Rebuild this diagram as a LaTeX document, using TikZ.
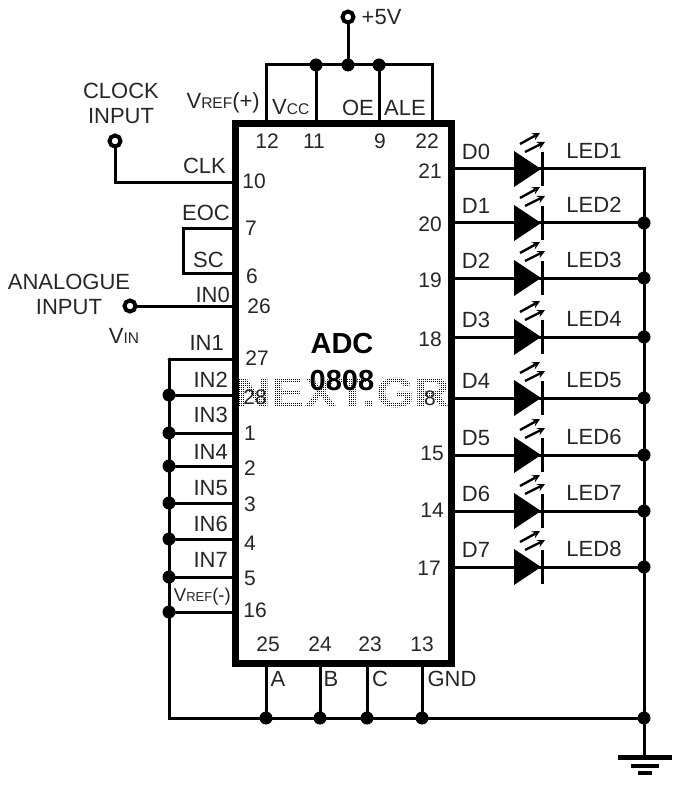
\documentclass[tikz,border=0pt]{standalone}
\usepackage{fontspec}
\setmainfont{Liberation Sans}
\usetikzlibrary{positioning, calc}
\newcommand{\smalltxt}[1]{{\fontsize{15.5}{15.5}\selectfont #1}}
\tikzset{
    wire/.style={line width=3pt, line cap=round, line join=miter},
    chipbox/.style={draw, line width=7pt, minimum width=216.5pt, minimum height=539pt, inner sep=0pt},
    dotjoin/.style={circle, fill=black, inner sep=0pt, minimum size=13pt},
    terminal/.style={circle, draw, fill=white, line width=4pt, inner sep=0pt, minimum size=11pt},
    lab/.style={inner sep=0pt, text=black!85, font=\fontsize{22}{22}\selectfont},
    pinnum/.style={inner sep=0pt, text=black!85, font=\fontsize{21}{21}\selectfont},
    ledtri/.style={fill=black},
    bar/.style={line width=3pt},
    ledray/.style={line width=2.4pt, -stealth}
}
\begin{document}
\begin{tikzpicture}[x=1pt, y=-1pt]
    \useasboundingbox (0, 0) rectangle (679, 786);
    % watermark
    \node[inner sep=0pt, text=black, xscale=1.18, font=\fontsize{42}{42}\selectfont\bfseries] (mark) at (343, 393) {NEXT.GR};
    \foreach \k in {0,...,105} {
        \draw[white, line width=0.8pt] (238+2*\k, 374) -- (238+2*\k, 412);
    }
    \foreach \k in {0,...,19} {
        \draw[white, line width=0.8pt] (238, 374+2*\k) -- (450, 374+2*\k);
    }
    % chip
    \node[chipbox] (adc) at (343.5, 393.5) {};
    \node[inner sep=0pt, font=\fontsize{29}{29}\selectfont\bfseries] (adcname) at (342, 344) {ADC};
    \node[inner sep=0pt, font=\fontsize{29}{29}\selectfont\bfseries] (adcnum) at (342, 381) {0808};
    % pin numbers
    \foreach \x/\y/\n in {267/141/12, 314/141/11, 380/141/9, 427/141/22,
                          254/181/10, 251/228/7, 252/276/6, 259/306/26, 257/358/27, 255/397/28,
                          250/433/1, 250/468/2, 250/504/3, 250/543/4, 250/578/5, 255/610/16,
                          430/171/21, 430/224/20, 430/280/19, 430/339/18, 430/398/8,
                          432/453/15, 432/510/14, 429/568/17,
                          268/644/25, 320/644/24, 370/644/23, 422/644/13} {
        \node[pinnum] (num\n) at (\x, \y) {\n};
    }
    % supply rail
    \coordinate (railL) at (266, 65);
    \coordinate (railR) at (432, 65);
    \node[dotjoin] (jvcc) at (316, 65) {};
    \node[dotjoin] (jsup) at (348, 65) {};
    \node[dotjoin] (joe) at (379, 65) {};
    \node[terminal] (sup) at (348, 17) {};
    \node[lab, right=6pt of sup] (suptxt) {+5V};
    \draw[wire] (266, 124) -- (railL) -- (railR) -- (432, 124);
    \draw[wire] (sup) -- (jsup);
    \draw[wire] (jvcc) -- (316, 124);
    \draw[wire] (joe) -- (379, 124);
    \node[lab, anchor=east] (vref) at (260, 103) {V\smalltxt{REF}(+)};
    \node[lab, anchor=west] (vcc) at (272, 107) {V\smalltxt{CC}};
    \node[lab] (oe) at (358, 108) {OE};
    \node[lab] (ale) at (405, 108) {ALE};
    % clock and analogue inputs
    \node[terminal] (clk) at (115, 141) {};
    \coordinate (pinclk) at (235, 183);
    \draw[wire] (clk) |- (pinclk);
    \node[lab, align=center] (clktxt) at (121, 103) {CLOCK\\[3pt]INPUT};
    \node[lab, anchor=east] (clklab) at (226, 166) {CLK};
    \coordinate (pineoc) at (235, 229);
    \coordinate (pinsc) at (235, 273);
    \draw[wire] (pineoc) -- (183, 229) -- (183, 273) -- (pinsc);
    \node[lab, anchor=east] (eoc) at (230, 213) {EOC};
    \node[lab, anchor=east] (sc) at (224, 260) {SC};
    \node[terminal] (ana) at (130, 306) {};
    \coordinate (pinin0) at (235, 306);
    \draw[wire] (ana) -- (pinin0);
    \node[lab, align=center] (anatxt) at (69, 294) {ANALOGUE\\[3pt]INPUT};
    \node[lab] (vin) at (124, 336) {V\smalltxt{IN}};
    \node[lab, anchor=east] (in0) at (230, 295) {IN0};
    % grounded inputs
    \coordinate (pinin1) at (235, 359);
    \coordinate (cornerin) at (169, 359);
    \node[lab, anchor=east] (in1) at (224, 343) {IN1};
    \draw[wire] (pinin1) -- (cornerin);
    \foreach \y/\n/\ly in {395/2/380, 433/3/415, 466/4/452, 503/5/488, 539/6/524, 577/7/560} {
        \node[dotjoin] (jin\n) at (169, \y) {};
        \draw[wire] (jin\n) -- (235, \y);
        \node[lab, anchor=east] (in\n) at (228, \ly) {IN\n};
    }
    \node[dotjoin] (jref) at (169, 612) {};
    \draw[wire] (jref) -- (235, 612);
    \node[lab, anchor=east, font=\fontsize{18.5}{18.5}\selectfont] (vrefm) at (231, 597) {V{\fontsize{13}{13}\selectfont REF}(-)};
    % bottom rail
    \node[dotjoin] (ja) at (266, 718) {};
    \node[dotjoin] (jb) at (320, 718) {};
    \node[dotjoin] (jc) at (367, 718) {};
    \node[dotjoin] (jg) at (422, 718) {};
    \node[dotjoin] (jend) at (644, 718) {};
    \coordinate (cornerbl) at (169, 718);
    \draw[wire] (cornerin) -- (cornerbl) -- (jend);
    \foreach \j/\t/\l/\lx in {ja/A/a/278, jb/B/b/331, jc/C/c/380, jg/GND/g/452} {
        \draw[wire] (\j) -- (\j |- adc.south);
        \node[lab] (sel\l) at (\lx, 679) {\t};
    }
    % leds
    \foreach \i/\y/\d in {1/169/0, 2/223/1, 3/278/2, 4/337/3, 5/398/4, 6/455/5, 7/511/6, 8/567/7} {
        \coordinate (drv\i) at (452, \y);
        \node[lab] (d\i) at (476, \y-17) {D\d};
        \node[lab] (led\i) at (594, \y-18) {LED\i};
        \fill[ledtri] (514, \y-18) -- (541, \y) -- (514, \y+18) -- cycle;
        \draw[bar] (542, \y-17) -- (542, \y+17);
        \draw[ledray] (520, \y-25) -- (540, \y-36);
        \draw[ledray] (525, \y-17) -- (545, \y-27);
    }
    \coordinate (railtop) at (644, 169);
    \draw[wire] (drv1) -- (railtop) -- (jend);
    \foreach \i/\y in {2/223, 3/278, 4/337, 5/398, 6/455, 7/511, 8/567} {
        \node[dotjoin] (jled\i) at (644, \y) {};
        \draw[wire] (drv\i) -- (jled\i);
    }
    % ground
    \coordinate (gnd1) at (644, 757);
    \draw[wire] (jend) -- (gnd1);
    \draw[line width=5pt] (618, 757) -- (672, 757);
    \draw[line width=4.5pt] (631, 766) -- (659, 766);
    \draw[line width=3.5pt] (638, 773) -- (652, 773);
\end{tikzpicture}
\end{document}
